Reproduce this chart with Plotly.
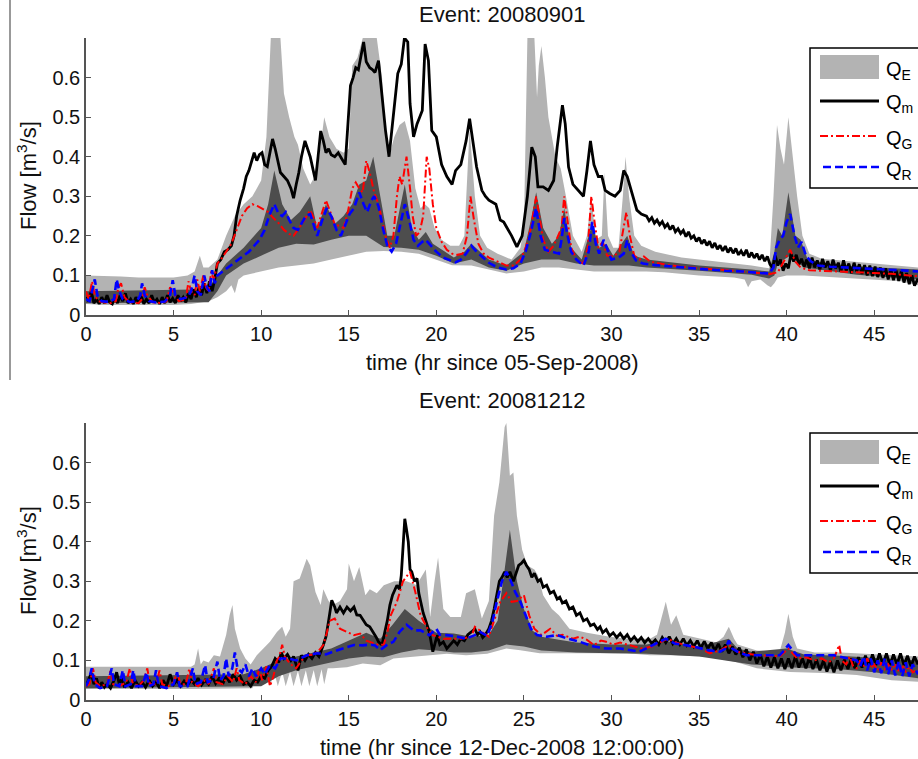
import plotly.graph_objects as go

# ---------------- data (hours, m3/s) ----------------
X_TICKS = [0, 5, 10, 15, 20, 25, 30, 35, 40, 45]
Y_TICKS = [0, 0.1, 0.2, 0.3, 0.4, 0.5, 0.6]
Y_TICK_TEXT = ["0", "0.1", "0.2", "0.3", "0.4", "0.5", "0.6"]
TITLES = ["Event: 20080901", "Event: 20081212"]
X_TITLES = ["time (hr since 05-Sep-2008)", "time (hr since 12-Dec-2008 12:00:00)"]
LEGEND_NAMES = ["Q<sub>E</sub>", "Q<sub>m</sub>", "Q<sub>G</sub>", "Q<sub>R</sub>"]

# ----- Event 20080901 -----
TOP_E_LOW = [(0,0.028),(1,0.025),(2,0.025),(3,0.025),(4,0.025),(5,0.025),(6,0.028),(7,0.035),(7.5,0.045),(8.0,0.06),(8.3,0.075),(8.5,0.055),(8.7,0.09),(9.0,0.1),(9.5,0.105),(10,0.11),(11,0.12),(12,0.125),(13,0.13),(14,0.14),(15,0.15),(16,0.16),(17,0.162),(18,0.16),(19,0.155),(20,0.14),(20.9,0.126),(22,0.125),(23,0.115),(24,0.105),(25,0.11),(26,0.12),(27,0.12),(28,0.115),(29,0.11),(30,0.11),(31,0.11),(32,0.11),(33,0.108),(35,0.1),(37,0.095),(37.6,0.09),(37.8,0.07),(38.0,0.085),(38.5,0.09),(38.9,0.075),(39.1,0.07),(39.3,0.08),(39.5,0.095),(40,0.1),(41,0.1),(43,0.095),(45,0.09),(46.5,0.085),(47.5,0.075)]
TOP_E_HIGH = [(0,0.1),(1,0.098),(2,0.097),(3,0.095),(4,0.095),(5,0.095),(5.8,0.1),(6.2,0.11),(6.5,0.15),(6.7,0.12),(7.0,0.12),(7.5,0.14),(8.0,0.2),(8.5,0.25),(9.0,0.28),(9.5,0.3),(10.0,0.34),(10.3,0.45),(10.55,0.7),(11.1,0.7),(11.3,0.56),(11.6,0.5),(11.9,0.45),(12.1,0.43),(12.4,0.37),(12.8,0.33),(13.2,0.36),(13.6,0.5),(13.9,0.45),(14.3,0.42),(14.7,0.41),(15.0,0.42),(15.2,0.63),(15.5,0.65),(15.8,0.7),(16.6,0.7),(16.9,0.6),(17.1,0.45),(17.3,0.4),(17.6,0.45),(17.9,0.48),(18.2,0.49),(18.5,0.44),(18.8,0.32),(19.1,0.27),(19.35,0.28),(19.6,0.27),(19.9,0.22),(20.3,0.19),(20.8,0.175),(21.3,0.175),(21.6,0.2),(21.9,0.47),(22.2,0.3),(22.5,0.2),(22.9,0.17),(23.5,0.155),(24.3,0.14),(24.8,0.17),(25.0,0.22),(25.2,0.7),(25.6,0.7),(25.75,0.55),(25.85,0.63),(26.0,0.68),(26.2,0.6),(26.4,0.5),(26.8,0.4),(27.1,0.37),(27.4,0.3),(27.8,0.2),(28.3,0.16),(28.6,0.2),(28.85,0.3),(29.1,0.19),(29.45,0.2),(29.6,0.36),(29.8,0.2),(30.1,0.17),(30.4,0.17),(30.65,0.3),(30.8,0.4),(31.0,0.3),(31.3,0.2),(31.7,0.175),(32.5,0.16),(34,0.145),(36,0.135),(38,0.125),(39,0.118),(39.25,0.3),(39.45,0.48),(39.65,0.42),(39.85,0.38),(40.1,0.5),(40.35,0.4),(40.6,0.3),(40.9,0.2),(41.3,0.155),(42,0.142),(45,0.13),(47.5,0.12)]
TOP_D_LOW = [(0,0.03),(7,0.032),(7.5,0.06),(8,0.1),(9,0.13),(10,0.15),(11,0.17),(12,0.18),(13,0.178),(14,0.19),(15,0.2),(16,0.2),(17,0.172),(18,0.17),(19,0.165),(20,0.15),(21,0.13),(22,0.14),(23,0.12),(24,0.112),(25,0.13),(26,0.14),(27,0.14),(28,0.13),(29,0.125),(30,0.125),(31,0.125),(32,0.12),(35,0.112),(38,0.102),(39,0.092),(39.3,0.1),(39.5,0.13),(40.2,0.15),(41,0.12),(44,0.102),(47.5,0.09)]
TOP_D_HIGH = [(0,0.06),(7,0.065),(7.5,0.1),(8,0.13),(9,0.17),(10,0.22),(10.4,0.28),(10.75,0.365),(11.2,0.28),(11.7,0.24),(12.2,0.26),(12.8,0.3),(13.2,0.22),(13.7,0.28),(14.2,0.23),(14.7,0.25),(15.2,0.28),(15.6,0.33),(16.0,0.34),(16.4,0.4),(16.8,0.3),(17.2,0.2),(17.6,0.2),(18.2,0.33),(18.6,0.22),(19.0,0.19),(19.4,0.21),(19.8,0.18),(20.5,0.16),(21.0,0.145),(21.6,0.16),(22.0,0.18),(22.5,0.16),(23.0,0.14),(24.0,0.125),(25.0,0.16),(25.4,0.24),(25.7,0.31),(26.1,0.22),(26.6,0.18),(27.0,0.2),(27.3,0.27),(27.7,0.17),(28.3,0.14),(28.9,0.23),(29.3,0.17),(29.7,0.18),(30.1,0.15),(30.9,0.2),(31.3,0.15),(32.0,0.14),(35.0,0.125),(38.0,0.115),(39.0,0.11),(39.3,0.16),(39.5,0.22),(39.75,0.2),(40.1,0.31),(40.5,0.2),(40.8,0.19),(41.2,0.14),(43.0,0.125),(47.5,0.115)]
TOP_QM = [(0.0,0.045),(0.15,0.035),(0.3,0.06),(0.45,0.03),(0.6,0.04),(0.75,0.028),(0.9,0.045),(1.05,0.03),(1.2,0.05),(1.35,0.032),(1.5,0.028),(1.65,0.045),(1.8,0.03),(1.95,0.05),(2.1,0.035),(2.25,0.055),(2.4,0.03),(2.55,0.04),(2.7,0.028),(2.85,0.045),(3.0,0.03),(3.15,0.048),(3.3,0.028),(3.45,0.04),(3.6,0.03),(3.75,0.05),(3.9,0.032),(4.05,0.04),(4.2,0.028),(4.35,0.045),(4.5,0.03),(4.65,0.05),(4.8,0.032),(4.95,0.042),(5.1,0.03),(5.25,0.05),(5.4,0.035),(5.55,0.045),(5.7,0.032),(5.85,0.055),(6.0,0.04),(6.15,0.065),(6.3,0.045),(6.45,0.07),(6.6,0.05),(6.75,0.08),(6.9,0.055),(7.05,0.085),(7.2,0.06),(7.35,0.09),
          (7.5,0.13),(7.7,0.14),(7.9,0.16),(8.1,0.165),(8.3,0.175),(8.45,0.2),(8.6,0.25),(8.8,0.29),(9.0,0.32),(9.15,0.35),(9.3,0.365),(9.45,0.39),(9.6,0.41),(9.75,0.39),(9.9,0.405),(10.05,0.41),(10.2,0.38),(10.35,0.375),(10.5,0.41),(10.65,0.445),(10.8,0.42),(10.95,0.39),(11.1,0.36),(11.3,0.35),(11.5,0.34),(11.7,0.32),(11.85,0.295),(12.0,0.33),(12.15,0.36),(12.3,0.4),(12.5,0.44),(12.65,0.42),(12.8,0.4),(12.95,0.37),(13.1,0.34),(13.25,0.4),(13.4,0.465),(13.55,0.44),(13.7,0.41),(13.85,0.42),(14.0,0.405),(14.2,0.4),(14.4,0.41),(14.6,0.395),(14.8,0.38),(14.95,0.48),(15.1,0.58),(15.25,0.6),(15.4,0.625),(15.55,0.62),(15.7,0.66),(15.85,0.69),(16.0,0.64),(16.2,0.625),(16.35,0.62),(16.5,0.613),(16.7,0.643),(16.9,0.55),(17.1,0.466),(17.3,0.40),(17.5,0.483),(17.65,0.56),(17.8,0.61),(18.0,0.634),(18.18,0.70),(18.37,0.69),(18.5,0.534),(18.7,0.45),(18.9,0.483),(19.05,0.5),(19.2,0.517),(19.36,0.685),(19.55,0.643),(19.74,0.466),(20.0,0.45),(20.3,0.38),(20.6,0.35),(20.9,0.33),(21.1,0.365),(21.4,0.38),(21.7,0.44),(21.9,0.496),(22.1,0.44),(22.3,0.374),(22.6,0.315),(22.8,0.3),(23.0,0.29),(23.2,0.285),(23.4,0.28),(23.65,0.24),(23.85,0.235),(24.0,0.223),(24.3,0.2),(24.6,0.172),(24.9,0.2),(25.05,0.25),(25.2,0.3),(25.45,0.424),(25.65,0.40),(25.8,0.324),(26.1,0.324),(26.4,0.315),(26.7,0.34),(26.9,0.424),(27.05,0.48),(27.2,0.53),(27.36,0.483),(27.55,0.374),(27.8,0.33),(28.1,0.315),(28.4,0.3),(28.6,0.365),(28.8,0.44),(29.0,0.38),(29.25,0.35),(29.45,0.35),(29.64,0.315),(29.9,0.307),(30.2,0.3),(30.5,0.315),(30.7,0.365),(30.9,0.35),(31.2,0.3),(31.45,0.265),(31.7,0.255),
          (32.0,0.25),(32.15,0.238),(32.3,0.246),(32.45,0.232),(32.6,0.24),(32.75,0.228),(32.9,0.236),(33.05,0.222),(33.2,0.23),(33.35,0.216),(33.5,0.226),(33.65,0.21),(33.8,0.218),(33.95,0.206),(34.1,0.214),(34.25,0.198),(34.4,0.21),(34.55,0.194),(34.7,0.2),(34.85,0.186),(35.0,0.196),(35.15,0.18),(35.3,0.19),(35.45,0.176),(35.6,0.186),(35.75,0.17),(35.9,0.182),(36.05,0.166),(36.2,0.176),(36.35,0.162),(36.5,0.174),(36.65,0.158),(36.8,0.17),(36.95,0.156),(37.1,0.168),(37.25,0.152),(37.4,0.162),(37.55,0.15),(37.7,0.165),(37.85,0.146),(38.0,0.158),(38.15,0.144),(38.3,0.155),(38.45,0.14),(38.6,0.152),(38.75,0.136),(38.9,0.148),(39.05,0.128),(39.2,0.12),(39.35,0.15),(39.5,0.125),(39.65,0.14),(39.8,0.112),(39.95,0.13),(40.1,0.118),(40.25,0.155),(40.4,0.135),(40.55,0.152),(40.7,0.128),(40.85,0.142),(41.0,0.122),(41.15,0.14),(41.3,0.118),(41.45,0.145),(41.6,0.12),(41.75,0.138),(41.9,0.115),(42.05,0.142),(42.2,0.12),(42.35,0.136),(42.5,0.112),(42.65,0.14),(42.8,0.118),(42.95,0.132),(43.1,0.11),(43.25,0.138),(43.4,0.112),(43.55,0.13),(43.7,0.106),(43.85,0.132),(44.0,0.11),(44.15,0.128),(44.3,0.104),(44.45,0.126),(44.6,0.1),(44.75,0.125),(44.9,0.098),(45.05,0.122),(45.2,0.096),(45.35,0.12),(45.5,0.094),(45.65,0.118),(45.8,0.09),(45.95,0.115),(46.1,0.088),(46.25,0.112),(46.4,0.086),(46.55,0.11),(46.7,0.082),(46.85,0.106),(47.0,0.078),(47.15,0.1),(47.3,0.074),(47.5,0.092)]
TOP_QG = [(0.0,0.06),(0.15,0.04),(0.35,0.085),(0.5,0.05),(0.7,0.035),(1.0,0.032),(1.4,0.03),(1.7,0.035),(1.85,0.07),(2.0,0.08),(2.2,0.045),(2.5,0.032),(3.0,0.03),(3.2,0.04),(3.35,0.07),(3.5,0.05),(3.8,0.032),(4.3,0.03),(4.6,0.035),(4.8,0.07),(5.0,0.055),(5.3,0.035),(5.7,0.04),(5.85,0.085),(6.0,0.06),(6.2,0.05),(6.35,0.09),(6.5,0.06),(6.7,0.1),(6.85,0.07),(7.0,0.06),(7.15,0.11),(7.3,0.09),(7.5,0.13),(7.7,0.14),(8.0,0.16),(8.3,0.18),(8.6,0.215),(8.9,0.25),(9.2,0.27),(9.5,0.28),(9.8,0.275),(10.1,0.268),(10.4,0.26),(10.7,0.245),(11.0,0.232),(11.3,0.215),(11.6,0.205),(11.85,0.2),(12.1,0.215),(12.4,0.235),(12.8,0.265),(13.0,0.245),(13.2,0.22),(13.45,0.255),(13.7,0.29),(13.95,0.26),(14.2,0.23),(14.45,0.225),(14.7,0.22),(14.95,0.26),(15.2,0.32),(15.4,0.335),(15.6,0.32),(15.8,0.31),(16.0,0.39),(16.2,0.36),(16.45,0.31),(16.7,0.28),(16.9,0.24),(17.1,0.2),(17.35,0.17),(17.55,0.2),(17.75,0.3),(17.9,0.35),(18.05,0.33),(18.3,0.40),(18.5,0.32),(18.65,0.25),(18.85,0.2),(19.05,0.21),(19.25,0.25),(19.45,0.40),(19.6,0.37),(19.8,0.28),(20.0,0.22),(20.3,0.185),(20.6,0.165),(20.9,0.155),(21.2,0.152),(21.5,0.155),(21.75,0.2),(21.95,0.30),(22.15,0.24),(22.4,0.18),(22.7,0.155),(23.0,0.145),(23.5,0.135),(24.0,0.125),(24.4,0.125),(24.8,0.14),(25.1,0.17),(25.4,0.22),(25.7,0.30),(25.9,0.25),(26.1,0.19),(26.4,0.16),(26.7,0.175),(26.95,0.2),(27.15,0.22),(27.3,0.30),(27.5,0.24),(27.7,0.17),(28.0,0.14),(28.4,0.13),(28.65,0.17),(28.85,0.30),(29.05,0.23),(29.25,0.17),(29.5,0.185),(29.75,0.15),(30.1,0.148),(30.45,0.16),(30.65,0.21),(30.85,0.26),(31.05,0.2),(31.3,0.15),(31.6,0.14),(31.85,0.148),(32.2,0.135),(33.0,0.128),(34.0,0.122),(35.0,0.118),(36.0,0.115),(37.0,0.112),(38.0,0.108),(39.0,0.103),(39.5,0.108),(39.9,0.14),(40.2,0.165),(40.5,0.135),(40.8,0.12),(41.3,0.113),(42.0,0.112),(43.0,0.11),(44.0,0.108),(45.0,0.106),(46.0,0.104),(47.0,0.1),(47.5,0.098)]
TOP_QR = [(0.0,0.04),(0.2,0.035),(0.4,0.07),(0.5,0.09),(0.65,0.05),(0.9,0.035),(1.3,0.033),(1.6,0.04),(1.75,0.09),(1.9,0.06),(2.1,0.04),(2.5,0.033),(2.9,0.035),(3.1,0.05),(3.2,0.08),(3.35,0.05),(3.6,0.035),(4.0,0.032),(4.5,0.034),(4.8,0.05),(4.95,0.088),(5.1,0.05),(5.4,0.04),(5.8,0.045),(6.0,0.06),(6.2,0.1),(6.35,0.06),(6.55,0.05),(6.75,0.1),(6.9,0.07),(7.05,0.06),(7.2,0.113),(7.35,0.08),(7.5,0.1),(7.8,0.11),(8.1,0.12),(8.4,0.13),(8.7,0.14),(9.0,0.15),(9.3,0.16),(9.6,0.175),(9.9,0.19),(10.2,0.215),(10.45,0.25),(10.75,0.28),(11.0,0.255),(11.2,0.25),(11.4,0.26),(11.6,0.24),(11.85,0.22),(12.1,0.215),(12.3,0.23),(12.55,0.25),(12.8,0.255),(13.05,0.22),(13.2,0.2),(13.45,0.235),(13.75,0.27),(14.0,0.25),(14.3,0.215),(14.55,0.2),(14.8,0.23),(15.05,0.255),(15.3,0.27),(15.6,0.31),(15.85,0.28),(16.05,0.26),(16.3,0.29),(16.45,0.3),(16.7,0.275),(16.95,0.22),(17.2,0.175),(17.45,0.16),(17.7,0.18),(17.95,0.23),(18.2,0.28),(18.45,0.24),(18.7,0.19),(18.95,0.175),(19.2,0.185),(19.4,0.19),(19.7,0.175),(20.0,0.16),(20.4,0.145),(20.8,0.138),(21.1,0.133),(21.4,0.14),(21.7,0.155),(22.0,0.175),(22.3,0.16),(22.6,0.148),(23.0,0.132),(23.5,0.12),(24.0,0.115),(24.4,0.118),(24.8,0.13),(25.1,0.16),(25.4,0.21),(25.7,0.27),(25.95,0.2),(26.2,0.165),(26.6,0.16),(27.0,0.155),(27.15,0.19),(27.3,0.245),(27.5,0.2),(27.7,0.16),(28.0,0.14),(28.4,0.125),(28.7,0.16),(28.9,0.235),(29.1,0.18),(29.3,0.155),(29.55,0.19),(29.8,0.16),(30.0,0.14),(30.4,0.145),(30.7,0.155),(30.9,0.19),(31.1,0.16),(31.4,0.138),(31.8,0.13),(32.5,0.126),(33.5,0.122),(34.5,0.118),(35.5,0.115),(36.5,0.112),(37.5,0.11),(38.5,0.106),(39.0,0.105),(39.25,0.12),(39.4,0.17),(39.6,0.19),(39.8,0.2),(40.0,0.235),(40.2,0.255),(40.45,0.2),(40.65,0.17),(40.85,0.185),(41.1,0.15),(41.4,0.135),(41.8,0.125),(42.5,0.122),(43.5,0.12),(44.5,0.118),(45.5,0.116),(46.5,0.113),(47.5,0.11)]

# ----- Event 20081212 -----
BOT_E_LOW = [(0,0.028),(6,0.028),(9.5,0.03),(9.8,0.065),(10.0,0.035),(10.3,0.07),(10.5,0.035),(10.75,0.07),(10.95,0.035),(11.2,0.072),(11.4,0.035),(11.65,0.072),(11.85,0.035),(12.1,0.074),(12.3,0.035),(12.55,0.075),(12.75,0.035),(13.0,0.076),(13.2,0.035),(13.45,0.078),(13.6,0.04),(13.8,0.08),(14.1,0.08),(14.9,0.083),(15.8,0.092),(16.8,0.088),(17.55,0.105),(18.5,0.109),(19.5,0.113),(20.6,0.117),(21.7,0.113),(22.9,0.117),(24.0,0.13),(24.8,0.126),(25.9,0.118),(27.0,0.118),(29.0,0.118),(30.9,0.118),(32.2,0.113),(33.5,0.113),(35.5,0.109),(37.0,0.097),(38.3,0.08),(40.2,0.071),(42.1,0.068),(44.0,0.063),(46.0,0.05),(47.5,0.046)]
BOT_E_HIGH = [(0,0.084),(6.0,0.084),(6.2,0.09),(6.4,0.13),(6.55,0.09),(6.7,0.1),(7.0,0.095),(7.3,0.113),(7.65,0.11),(8.0,0.164),(8.2,0.214),(8.36,0.24),(8.5,0.18),(8.8,0.13),(9.1,0.105),(9.4,0.09),(9.75,0.113),(10.1,0.13),(10.5,0.147),(10.9,0.172),(11.2,0.185),(11.4,0.16),(11.65,0.18),(11.85,0.3),(12.2,0.307),(12.6,0.357),(12.8,0.34),(13.1,0.273),(13.4,0.24),(13.55,0.28),(13.85,0.25),(14.1,0.24),(14.5,0.25),(14.9,0.28),(15.0,0.345),(15.3,0.3),(15.6,0.336),(15.95,0.265),(16.2,0.28),(16.6,0.27),(17.0,0.29),(17.6,0.3),(18.3,0.3),(18.9,0.29),(19.0,0.3),(19.4,0.33),(19.65,0.21),(19.9,0.3),(20.1,0.36),(20.4,0.23),(20.8,0.21),(21.4,0.21),(21.7,0.27),(22.2,0.28),(22.6,0.206),(23.0,0.25),(23.3,0.466),(23.6,0.55),(23.9,0.69),(24.0,0.70),(24.2,0.567),(24.4,0.575),(24.6,0.466),(24.9,0.38),(25.2,0.34),(25.6,0.33),(25.8,0.315),(26.1,0.265),(26.6,0.23),(27.0,0.214),(27.6,0.18),(28.6,0.17),(29.9,0.16),(30.9,0.155),(32.2,0.155),(32.6,0.165),(33.1,0.248),(33.4,0.19),(33.7,0.214),(34.1,0.165),(35.1,0.155),(36.0,0.145),(36.4,0.16),(36.7,0.185),(37.0,0.155),(37.2,0.14),(38.3,0.125),(39.6,0.122),(39.9,0.17),(40.1,0.218),(40.35,0.16),(40.6,0.13),(41.6,0.12),(43.1,0.12),(45.0,0.115),(47.5,0.11)]
BOT_D_LOW = [(0,0.03),(10,0.035),(11,0.06),(12,0.075),(13,0.085),(14,0.095),(15,0.105),(16,0.11),(17,0.108),(18,0.12),(19,0.128),(20,0.125),(21,0.12),(22,0.12),(23,0.125),(24,0.14),(25,0.135),(26,0.125),(28,0.12),(30,0.118),(32,0.117),(35,0.11),(38,0.09),(40,0.083),(43,0.078),(45,0.07),(47.5,0.055)]
BOT_D_HIGH = [(0,0.06),(9,0.065),(10,0.08),(11,0.1),(12,0.11),(13,0.12),(14,0.13),(15,0.15),(16,0.17),(16.8,0.155),(17.5,0.19),(18.2,0.23),(19,0.2),(20,0.17),(21,0.168),(22,0.16),(23,0.165),(23.5,0.2),(23.9,0.33),(24.2,0.43),(24.6,0.3),(25,0.23),(25.5,0.175),(26,0.16),(27,0.152),(28,0.145),(30,0.14),(32,0.14),(33,0.15),(35,0.135),(36.7,0.155),(37.2,0.13),(38,0.122),(40,0.13),(41,0.115),(43,0.112),(45,0.107),(47.5,0.1)]
BOT_QM = [(0.0,0.035),(0.15,0.05),(0.3,0.068),(0.45,0.04),(0.6,0.055),(0.75,0.03),(0.9,0.045),(1.05,0.032),(1.2,0.04),(1.4,0.03),(1.6,0.05),(1.75,0.07),(1.9,0.04),(2.05,0.055),(2.2,0.032),(2.4,0.045),(2.6,0.03),(2.8,0.05),(3.0,0.035),(3.2,0.045),(3.4,0.032),(3.6,0.05),(3.8,0.035),(4.0,0.045),(4.2,0.03),(4.4,0.05),(4.6,0.035),(4.8,0.065),(5.0,0.04),(5.2,0.05),(5.4,0.035),(5.6,0.048),(5.8,0.038),(6.0,0.05),(6.2,0.04),(6.4,0.055),(6.6,0.038),(6.8,0.05),(7.0,0.04),(7.2,0.06),(7.4,0.042),(7.6,0.055),(7.8,0.04),(8.0,0.06),(8.2,0.045),(8.4,0.065),(8.6,0.05),(8.8,0.06),(9.0,0.04),(9.2,0.045),(9.4,0.035),(9.6,0.05),(9.8,0.045),(10.0,0.06),(10.2,0.055),(10.4,0.075),(10.6,0.085),(10.8,0.105),(11.0,0.095),(11.15,0.12),(11.3,0.105),(11.5,0.115),(11.7,0.1),(11.85,0.11),(12.0,0.09),(12.1,0.075),(12.3,0.113),(12.5,0.1),(12.7,0.115),(12.9,0.105),(13.1,0.12),(13.3,0.11),(13.55,0.139),(13.7,0.16),(13.85,0.2),(14.03,0.252),(14.2,0.235),(14.3,0.22),(14.5,0.235),(14.7,0.22),(14.9,0.235),(15.1,0.225),(15.3,0.235),(15.46,0.215),(15.65,0.214),(15.8,0.205),(16.0,0.19),(16.2,0.185),(16.4,0.172),(16.55,0.16),(16.7,0.147),(16.9,0.139),(17.05,0.17),(17.2,0.2),(17.35,0.24),(17.5,0.265),(17.75,0.29),(17.9,0.28),(18.0,0.315),(18.1,0.4),(18.2,0.458),(18.3,0.43),(18.4,0.40),(18.5,0.33),(18.6,0.324),(18.75,0.3),(18.9,0.307),(19.0,0.27),(19.1,0.248),(19.25,0.22),(19.4,0.2),(19.6,0.172),(19.8,0.122),(19.95,0.15),(20.05,0.164),(20.2,0.14),(20.4,0.147),(20.6,0.13),(20.8,0.139),(21.0,0.15),(21.2,0.14),(21.4,0.155),(21.6,0.15),(21.8,0.165),(22.0,0.172),(22.2,0.18),(22.35,0.165),(22.5,0.172),(22.65,0.158),(22.8,0.165),(23.0,0.18),(23.15,0.2),(23.3,0.23),(23.45,0.27),(23.6,0.3),(23.75,0.31),(23.9,0.324),(24.05,0.31),(24.2,0.324),(24.4,0.3),(24.55,0.32),(24.7,0.34),(24.85,0.345),(25.0,0.353),(25.15,0.34),(25.3,0.33),(25.45,0.31),(25.6,0.32),(25.8,0.3),(25.95,0.305),(26.1,0.285),(26.3,0.29),(26.5,0.27),(26.7,0.275),(26.9,0.255),(27.05,0.26),(27.2,0.245),(27.4,0.25),(27.6,0.23),(27.8,0.235),(28.0,0.214),(28.2,0.22),(28.4,0.2),(28.6,0.205),(28.8,0.188),(29.0,0.192),(29.2,0.178),(29.35,0.185),(29.5,0.17),(29.7,0.178),(29.9,0.162),(30.1,0.17),(30.3,0.158),(30.5,0.168),(30.7,0.155),(30.9,0.165),(31.1,0.15),(31.3,0.16),(31.5,0.148),(31.7,0.158),(31.9,0.145),(32.1,0.155),(32.3,0.143),(32.5,0.152),(32.7,0.14),(32.9,0.158),(33.1,0.145),(33.3,0.16),(33.5,0.142),(33.7,0.155),(33.9,0.14),(34.1,0.155),(34.3,0.138),(34.5,0.15),(34.7,0.135),(34.9,0.15),(35.1,0.132),(35.3,0.148),(35.5,0.13),(35.7,0.145),(35.9,0.125),(36.1,0.142),(36.3,0.122),(36.5,0.14),(36.7,0.118),(36.9,0.135),(37.1,0.115),(37.3,0.132),(37.5,0.108),(37.7,0.128),(37.9,0.1),(38.1,0.122),(38.3,0.092),(38.5,0.115),(38.7,0.085),(38.9,0.11),(39.1,0.082),(39.3,0.108),(39.5,0.08),(39.7,0.105),(39.9,0.078),(40.1,0.105),(40.3,0.08),(40.5,0.11),(40.7,0.082),(40.9,0.105),(41.1,0.08),(41.3,0.108),(41.5,0.078),(41.7,0.102),(41.9,0.075),(42.1,0.1),(42.3,0.072),(42.5,0.098),(42.7,0.07),(42.9,0.1),(43.1,0.075),(43.3,0.102),(43.5,0.078),(43.7,0.105),(43.9,0.08),(44.1,0.108),(44.3,0.082),(44.5,0.112),(44.7,0.085),(44.9,0.115),(45.1,0.088),(45.3,0.118),(45.5,0.09),(45.7,0.118),(45.9,0.088),(46.1,0.115),(46.3,0.09),(46.5,0.118),(46.7,0.088),(46.9,0.112),(47.1,0.085),(47.3,0.11),(47.5,0.09)]
BOT_QG = [(0.0,0.035),(0.2,0.04),(0.4,0.08),(0.55,0.045),(0.8,0.035),(1.2,0.04),(1.4,0.075),(1.55,0.04),(1.9,0.035),(2.3,0.045),(2.5,0.08),(2.65,0.045),(3.0,0.035),(3.3,0.05),(3.5,0.08),(3.65,0.04),(4.0,0.04),(4.2,0.075),(4.35,0.04),(4.7,0.035),(5.0,0.045),(5.2,0.07),(5.4,0.04),(5.7,0.04),(5.9,0.08),(6.05,0.045),(6.4,0.035),(6.8,0.05),(7.0,0.04),(7.3,0.08),(7.45,0.045),(7.8,0.04),(8.1,0.06),(8.4,0.045),(8.6,0.08),(8.75,0.05),(9.1,0.04),(9.4,0.06),(9.7,0.045),(9.9,0.08),(10.05,0.05),(10.3,0.085),(10.5,0.035),(10.7,0.06),(10.9,0.1),(11.05,0.11),(11.2,0.14),(11.35,0.11),(11.5,0.1),(11.7,0.09),(12.0,0.08),(12.3,0.1),(12.6,0.113),(13.0,0.115),(13.3,0.125),(13.55,0.139),(13.75,0.17),(13.9,0.2),(14.2,0.206),(14.5,0.18),(14.9,0.172),(15.3,0.164),(15.65,0.168),(16.0,0.15),(16.2,0.147),(16.7,0.139),(17.0,0.14),(17.2,0.17),(17.4,0.214),(17.75,0.248),(18.1,0.3),(18.5,0.324),(18.8,0.273),(19.1,0.214),(19.5,0.18),(19.8,0.164),(20.4,0.155),(21.4,0.155),(22.0,0.16),(22.2,0.185),(22.6,0.172),(23.0,0.16),(23.4,0.214),(23.65,0.248),(24.0,0.27),(24.3,0.248),(24.6,0.25),(25.0,0.265),(25.3,0.214),(25.6,0.18),(26.0,0.164),(26.5,0.18),(26.9,0.162),(27.2,0.165),(27.8,0.155),(28.2,0.16),(28.6,0.152),(29.0,0.139),(29.4,0.15),(29.7,0.147),(30.1,0.14),(30.5,0.145),(30.9,0.14),(31.4,0.135),(31.8,0.13),(32.3,0.135),(32.8,0.145),(33.2,0.155),(33.7,0.145),(34.1,0.14),(34.6,0.135),(35.1,0.13),(35.6,0.118),(36.2,0.125),(36.7,0.139),(37.2,0.122),(37.7,0.118),(38.3,0.113),(39.0,0.112),(39.6,0.11),(40.1,0.13),(40.6,0.105),(41.1,0.108),(41.6,0.1),(42.0,0.105),(42.4,0.095),(42.7,0.105),(42.9,0.125),(43.0,0.139),(43.15,0.1),(43.4,0.09),(43.6,0.11),(43.8,0.085),(44.0,0.08),(44.2,0.1),(44.4,0.085),(44.6,0.105),(44.8,0.08),(45.0,0.09),(45.2,0.075),(45.4,0.095),(45.6,0.078),(45.8,0.09),(46.0,0.075),(46.2,0.092),(46.4,0.072),(46.6,0.088),(46.8,0.07),(47.0,0.085),(47.2,0.07),(47.5,0.078)]
BOT_QR = [(0.0,0.035),(0.15,0.05),(0.33,0.08),(0.5,0.04),(0.8,0.03),(1.2,0.035),(1.47,0.08),(1.6,0.04),(1.9,0.035),(2.1,0.075),(2.25,0.035),(2.55,0.04),(2.7,0.075),(2.85,0.035),(3.2,0.035),(3.46,0.07),(3.6,0.035),(3.85,0.04),(4.0,0.075),(4.15,0.035),(4.6,0.03),(5.0,0.04),(5.2,0.07),(5.35,0.035),(5.8,0.035),(6.1,0.08),(6.25,0.04),(6.55,0.045),(6.8,0.088),(6.95,0.045),(7.25,0.05),(7.5,0.097),(7.65,0.05),(7.85,0.06),(8.0,0.105),(8.15,0.06),(8.35,0.08),(8.5,0.12),(8.65,0.08),(8.9,0.07),(9.1,0.09),(9.3,0.06),(9.5,0.08),(9.7,0.06),(10.0,0.08),(10.2,0.065),(10.5,0.088),(10.8,0.08),(11.1,0.105),(11.5,0.105),(12.0,0.1),(12.6,0.113),(13.2,0.118),(13.7,0.115),(14.1,0.122),(14.7,0.13),(15.3,0.139),(15.8,0.138),(16.2,0.14),(16.5,0.138),(16.8,0.126),(17.2,0.14),(17.55,0.147),(17.9,0.172),(18.3,0.19),(18.7,0.176),(19.1,0.176),(19.6,0.164),(20.0,0.18),(20.2,0.165),(20.6,0.164),(21.2,0.16),(21.7,0.155),(22.2,0.164),(22.5,0.172),(22.9,0.162),(23.2,0.197),(23.45,0.248),(23.75,0.3),(24.0,0.324),(24.2,0.307),(24.5,0.273),(24.8,0.248),(25.1,0.214),(25.4,0.18),(25.75,0.164),(26.3,0.16),(26.9,0.164),(27.5,0.155),(28.2,0.147),(29.0,0.135),(29.7,0.13),(30.5,0.13),(31.6,0.122),(32.4,0.139),(33.1,0.155),(33.6,0.143),(34.1,0.139),(34.7,0.135),(35.5,0.126),(36.2,0.122),(36.5,0.13),(36.7,0.15),(36.9,0.13),(37.2,0.122),(37.7,0.113),(38.9,0.113),(39.6,0.113),(39.85,0.125),(40.1,0.139),(40.35,0.125),(40.6,0.113),(41.6,0.113),(42.7,0.113),(43.5,0.105),(44.0,0.1),(44.2,0.085),(44.4,0.11),(44.6,0.075),(44.8,0.105),(45.0,0.07),(45.2,0.1),(45.4,0.068),(45.6,0.105),(45.8,0.065),(46.0,0.1),(46.2,0.062),(46.4,0.098),(46.6,0.06),(46.8,0.095),(47.0,0.06),(47.2,0.09),(47.5,0.065)]

# ---------------- styling ----------------
W, H = 918, 759
ML, MR, MT, MB = 86, 0, 38, 59
PW, PH = W - ML - MR, H - MT - MB
FONT = "Liberation Sans, Arial, sans-serif"
LIGHT, DARK = "#b3b3b3", "#4d4d4d"
AXC = "#555555"
TXT = "#111111"


def px(x):
    return (x - ML) / PW


def py(y):
    return (H - MB - y) / PH


def split(pairs):
    return [p[0] for p in pairs], [p[1] for p in pairs]


def band(low, high, color, xa, ya):
    lx, lv = split(low)
    hx, hv = split(high)
    return go.Scatter(x=lx + hx[::-1], y=lv + hv[::-1], fill="toself", fillcolor=color,
                      line=dict(width=0), mode="lines", hoverinfo="skip", showlegend=False,
                      xaxis=xa, yaxis=ya)


def line(pairs, color, width, dash, xa, ya):
    t, v = split(pairs)
    return go.Scatter(x=t, y=v, mode="lines", line=dict(color=color, width=width, dash=dash),
                      showlegend=False, xaxis=xa, yaxis=ya)


fig = go.Figure()
panels = [
    ("x", "y", TOP_E_LOW, TOP_E_HIGH, TOP_D_LOW, TOP_D_HIGH, TOP_QM, TOP_QG, TOP_QR),
    ("x2", "y2", BOT_E_LOW, BOT_E_HIGH, BOT_D_LOW, BOT_D_HIGH, BOT_QM, BOT_QG, BOT_QR),
]
for xa, ya, el, eh, dl, dh, qm, qg, qr in panels:
    fig.add_trace(band(el, eh, LIGHT, xa, ya))
    fig.add_trace(band(dl, dh, DARK, xa, ya))
    fig.add_trace(line(qm, "#000000", 2.8, "solid", xa, ya))
    fig.add_trace(line(qg, "#ff0000", 2.0, "8px,3px,2px,3px", xa, ya))
    fig.add_trace(line(qr, "#0000ff", 2.6, "8px,4px", xa, ya))

xax = dict(range=[0, 47.5], tickvals=X_TICKS, ticks="inside", ticklen=5, tickwidth=1.2,
           tickcolor=AXC, showline=True, linecolor=AXC, linewidth=1.5, showgrid=False,
           zeroline=False, mirror=False, tickfont=dict(family=FONT, size=20, color=TXT))
yax = dict(range=[0, 0.7], tickvals=Y_TICKS, ticktext=Y_TICK_TEXT, ticks="inside", ticklen=5,
           tickwidth=1.2, tickcolor=AXC, showline=True, linecolor=AXC, linewidth=1.5,
           showgrid=False, zeroline=False, mirror=False,
           tickfont=dict(family=FONT, size=20, color=TXT))

fig.update_layout(
    width=W, height=H, margin=dict(l=ML, r=MR, t=MT, b=MB),
    paper_bgcolor="white", plot_bgcolor="white", showlegend=False,
    xaxis=dict(xax, domain=[0, 1], anchor="y"),
    yaxis=dict(yax, domain=[py(315), py(38)], anchor="x"),
    xaxis2=dict(xax, domain=[0, 1], anchor="y2"),
    yaxis2=dict(yax, domain=[py(700), py(423)], anchor="x2"),
)

shapes = []
annotations = []
for k, dy in enumerate([0, 385]):
    annotations.append(dict(text=TITLES[k], x=0.5, y=py(15 + dy), xref="paper", yref="paper",
                            showarrow=False, xanchor="center", yanchor="middle",
                            font=dict(family=FONT, size=22, color=TXT)))
    annotations.append(dict(text=X_TITLES[k], x=px(502), y=py(362 + dy), xref="paper", yref="paper",
                            showarrow=False, xanchor="center", yanchor="middle",
                            font=dict(family=FONT, size=22, color=TXT)))
    annotations.append(dict(text="Flow [m<sup>3</sup>/s]", x=px(27), y=py(176 + dy), xref="paper",
                            yref="paper", showarrow=False, xanchor="center", yanchor="middle",
                            textangle=-90, font=dict(family=FONT, size=22, color=TXT)))
    # legend
    shapes.append(dict(type="rect", xref="paper", yref="paper", x0=px(810), x1=px(940),
                       y0=py(188 + dy), y1=py(48 + dy), line=dict(color="#000", width=1.5),
                       fillcolor="white", layer="above"))
    shapes.append(dict(type="rect", xref="paper", yref="paper", x0=px(820), x1=px(879),
                       y0=py(79 + dy), y1=py(55 + dy), line=dict(width=0), fillcolor=LIGHT,
                       layer="above"))
    shapes.append(dict(type="line", xref="paper", yref="paper", x0=px(820), x1=px(879),
                       y0=py(101 + dy), y1=py(101 + dy), line=dict(color="#000", width=2.8),
                       layer="above"))
    shapes.append(dict(type="line", xref="paper", yref="paper", x0=px(820), x1=px(879),
                       y0=py(136 + dy), y1=py(136 + dy),
                       line=dict(color="#ff0000", width=2.0, dash="8px,3px,2px,3px"), layer="above"))
    shapes.append(dict(type="line", xref="paper", yref="paper", x0=px(823), x1=px(879),
                       y0=py(167 + dy), y1=py(167 + dy),
                       line=dict(color="#0000ff", width=2.6, dash="8px,4px"), layer="above"))
    for name, yc in zip(LEGEND_NAMES, [67, 101, 136, 167]):
        annotations.append(dict(text=name, x=px(884), y=py(yc + 3 + dy), xref="paper", yref="paper",
                                showarrow=False, xanchor="left", yanchor="middle",
                                font=dict(family=FONT, size=20, color="#000")))

# thin figure border fragment on the far left
shapes.append(dict(type="line", xref="paper", yref="paper", x0=px(10), x1=px(10),
                   y0=py(0), y1=py(380), line=dict(color="#777", width=1.5)))

fig.update_layout(shapes=shapes, annotations=annotations)
fig.write_html("out.html")
